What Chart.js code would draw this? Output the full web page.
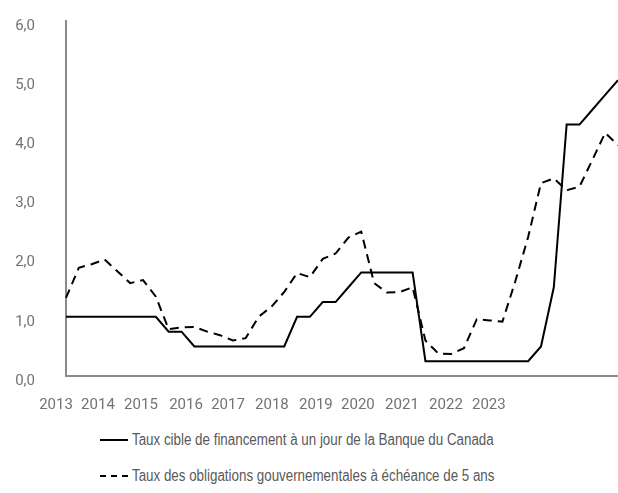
<!DOCTYPE html>
<html lang="fr">
<head>
<meta charset="utf-8">
<title>Taux directeur et obligations à 5 ans</title>
<script src="https://cdn.jsdelivr.net/npm/chart.js@4.4.1/dist/chart.umd.min.js"></script>
<style>
    html, body {
        margin: 0;
        padding: 0;
        background: #ffffff;
    }
    .chart-page {
        position: relative;
        width: 618px;
        height: 493px;
        overflow: hidden;
    }
    .chart-wrap {
        position: absolute;
        left: 0;
        top: 0;
        width: 618px;
        height: 420px;
    }
    .legend {
        position: absolute;
        left: 100px;
        top: 428px;
        margin: 0;
        padding: 0;
        list-style: none;
        font-family: 'Liberation Sans', Arial, sans-serif;
        font-size: 16px;
        color: #595959;
    }
    .legend li {
        display: flex;
        align-items: center;
        height: 24px;
        margin-bottom: 12px;
        white-space: nowrap;
    }
    .legend__swatch {
        display: inline-block;
        width: 28px;
        height: 0;
        margin-right: 4px;
        border-top: 2px solid #000000;
    }
    .legend__swatch--dashed {
        border-top: 2px dashed #000000;
    }
    /* Arial Narrow is not installed: squeeze Liberation Sans to the same width */
    .legend__text {
        display: inline-block;
        transform: scaleX(0.835);
        transform-origin: left center;
    }
</style>
</head>
<body>
<div class="chart-page">
    <div class="chart-wrap"><canvas id="ratesChart"></canvas></div>
    <ul class="legend" id="ratesLegend"></ul>
</div>
<script>
// quarterly observations, T1 2013 to T4 2023
const quarters = [];
for (let year = 2013; year <= 2023; year++) {
    for (let q = 1; q <= 4; q++) {
        quarters.push(`${year}T${q}`);
    }
}

const overnightRate = [
    1.0, 1.0, 1.0, 1.0, 1.0, 1.0, 1.0, 1.0,
    0.75, 0.75,
    0.5, 0.5, 0.5, 0.5, 0.5, 0.5, 0.5, 0.5,
    1.0, 1.0, 1.25, 1.25, 1.5, 1.75,
    1.75, 1.75, 1.75, 1.75,
    0.25, 0.25, 0.25, 0.25, 0.25, 0.25, 0.25, 0.25, 0.25,
    0.5, 1.5, 4.25, 4.25, 4.5, 4.75, 5.0,
];

const bondYield5y = [
    1.32, 1.83, 1.89, 1.97, 1.77, 1.57, 1.62, 1.34, 0.79, 0.82,
    0.83, 0.75, 0.69, 0.6, 0.64, 1.0, 1.17, 1.42, 1.74, 1.67,
    1.98, 2.07, 2.34, 2.44, 1.57, 1.41, 1.42, 1.5, 0.6, 0.38,
    0.37, 0.47, 0.96, 0.94, 0.92, 1.6, 2.35, 3.26, 3.34, 3.14,
    3.2, 3.65, 4.11, 3.9,
];

// year labels and where they sit along the quarter index axis
const yearLabels = ['2013', '2014', '2015', '2016', '2017', '2018', '2019', '2020', '2021', '2022', '2023'];
const yearTickValues = [-0.78, 2.49, 5.84, 9.35, 12.62, 16.04, 19.47, 22.74, 26.17, 29.6, 32.94];

const seriesNames = [
    'Taux cible de financement à un jour de la Banque du Canada',
    'Taux des obligations gouvernementales à échéance de 5 ans',
];

const AXIS_COLOR = '#8a8a8a';
const TICK_COLOR = '#737373';
const TICK_FONT = { family: "'Roboto', sans-serif", size: 15 };

/**
 * @param {number[]} values
 */
function toPoints(values) {
    return values.map((y, i) => ({ x: i, y }));
}

/**
 * @param {number} value
 */
function frenchDecimal(value) {
    return value.toFixed(1).replace('.', ',');
}

function buildLegend() {
    const list = document.getElementById('ratesLegend');
    seriesNames.forEach((name, i) => {
        const item = document.createElement('li');
        const swatch = document.createElement('span');
        swatch.className = i === 0 ? 'legend__swatch' : 'legend__swatch legend__swatch--dashed';
        const label = document.createElement('span');
        label.className = 'legend__text';
        label.textContent = name;
        item.append(swatch, label);
        list.appendChild(item);
    });
}

function renderChart() {
    const canvas = document.getElementById('ratesChart');

    new Chart(canvas, {
        type: 'line',
        data: {
            labels: quarters,
            datasets: [
                {
                    label: seriesNames[0],
                    data: toPoints(overnightRate),
                    borderColor: '#000000',
                    borderWidth: 2,
                    pointRadius: 0,
                    tension: 0,
                },
                {
                    label: seriesNames[1],
                    data: toPoints(bondYield5y),
                    borderColor: '#000000',
                    borderWidth: 2,
                    borderDash: [9, 6],
                    pointRadius: 0,
                    tension: 0,
                },
            ],
        },
        options: {
            responsive: true,
            maintainAspectRatio: false,
            animation: false,
            clip: false,
            layout: { padding: { top: 21, right: 0, bottom: 0, left: 0 } },
            plugins: {
                legend: { display: false },
                tooltip: { enabled: false },
            },
            scales: {
                x: {
                    type: 'linear',
                    min: 0,
                    max: quarters.length - 1,
                    bounds: 'data',
                    grid: { display: false, drawTicks: false },
                    border: { display: true, color: AXIS_COLOR, width: 2 },
                    afterBuildTicks: (scale) => {
                        scale.ticks = yearTickValues.map((value) => ({ value }));
                    },
                    afterFit: (scale) => {
                        scale.height = 44;
                    },
                    ticks: {
                        autoSkip: false,
                        maxRotation: 0,
                        padding: 20,
                        color: TICK_COLOR,
                        font: TICK_FONT,
                        callback: (value, index) => yearLabels[index],
                    },
                },
                y: {
                    min: 0,
                    max: 6,
                    grid: { display: false, drawTicks: false },
                    border: { display: true, color: AXIS_COLOR, width: 2 },
                    afterFit: (scale) => {
                        // the large tick padding would otherwise be added above the plot too
                        scale.width = 66;
                        scale.paddingTop = 0;
                        scale.paddingBottom = 0;
                    },
                    ticks: {
                        stepSize: 1,
                        padding: 31,
                        labelOffset: 5,
                        color: TICK_COLOR,
                        font: TICK_FONT,
                        callback: (value) => frenchDecimal(value),
                    },
                },
            },
        },
    });
}

buildLegend();
renderChart();
</script>
</body>
</html>
